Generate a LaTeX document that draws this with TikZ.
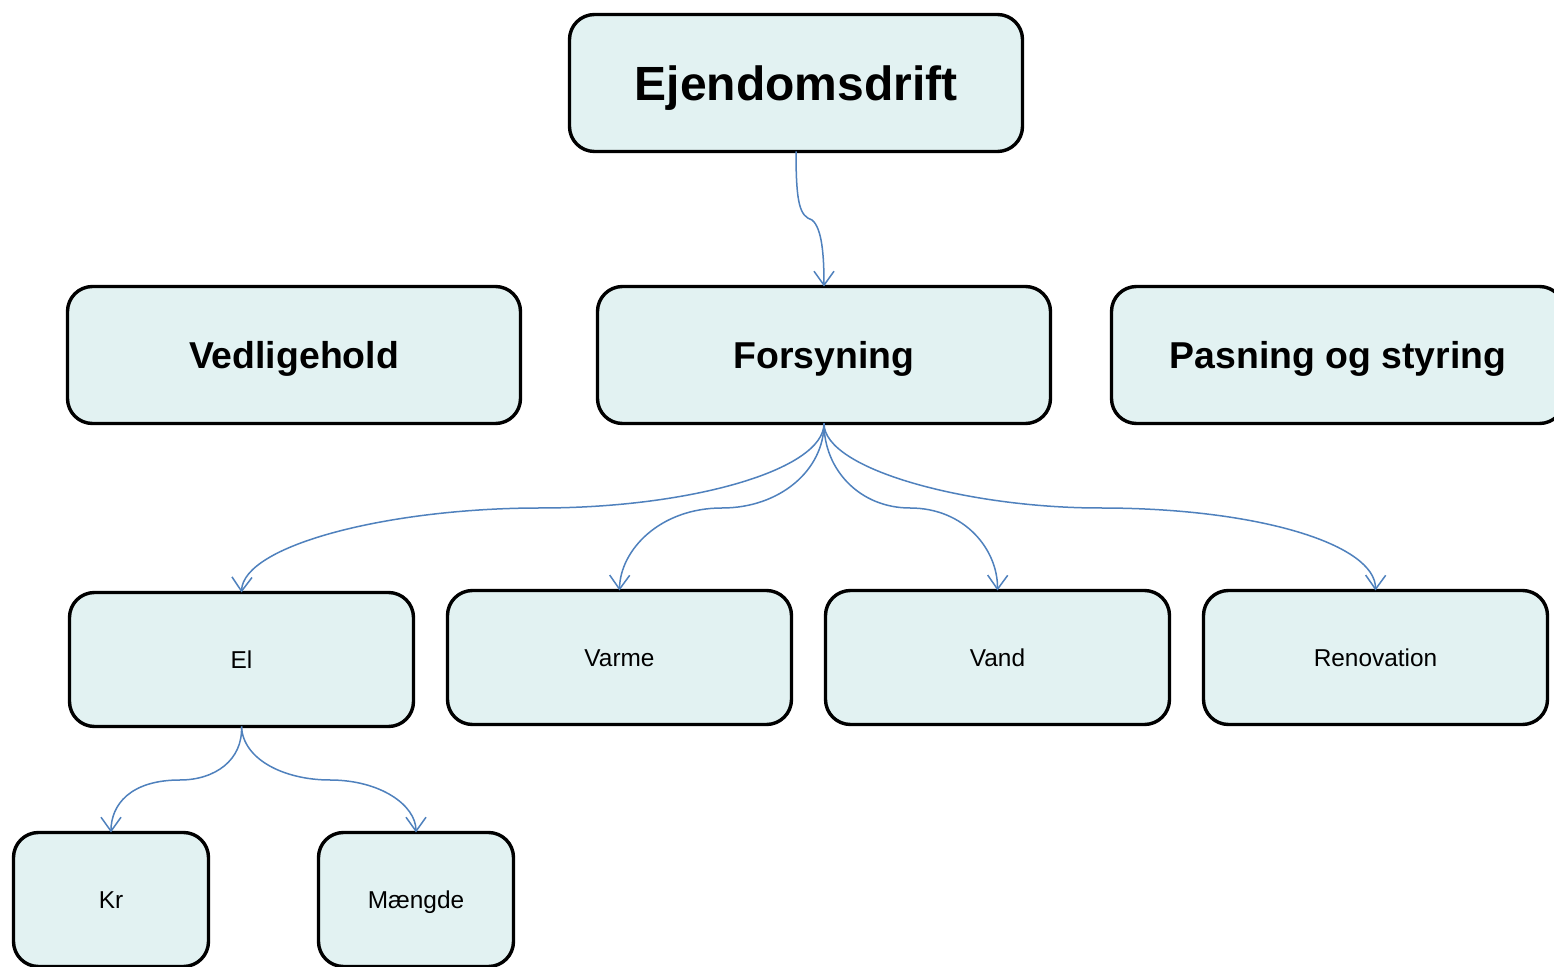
\documentclass[tikz,border=0pt]{standalone}
\usepackage{fontspec}
\setmainfont{Liberation Sans}
\usetikzlibrary{arrows.meta}
\definecolor{boxfill}{HTML}{E2F2F2}
\definecolor{linkblue}{HTML}{4F81BD}
\begin{document}
\begin{tikzpicture}[x=0.5pt,y=-0.5pt,
  box/.style={draw=black,line width=1.7pt,fill=boxfill,rounded corners=12.5pt,inner sep=0pt,outer sep=0pt,align=center,text depth=0pt},
  topbox/.style={box,minimum width=226.5pt,minimum height=68.5pt,text height=17.2pt,font=\fontsize{24}{28}\selectfont\bfseries},
  midbox/.style={box,minimum width=226.5pt,minimum height=68.5pt,text height=13.4pt,font=\fontsize{18.7}{22}\selectfont\bfseries},
  lowbox/.style={box,minimum width=172pt,minimum height=67pt,text height=8.7pt,font=\fontsize{12.2}{14}\selectfont},
  leafbox/.style={box,minimum width=97.5pt,minimum height=67pt,text height=8.7pt,font=\fontsize{12.2}{14}\selectfont},
  link/.style={draw=linkblue,line width=0.75pt,-{Straight Barb[length=7pt,width=10pt,line width=0.75pt]}}
]
\useasboundingbox (0,0) rectangle (1554,967);
\fill[white] (0,0) rectangle (1554,967);

\node[topbox] (ejd) at (796,83) {Ejendomsdrift};
\node[midbox] (ved) at (294,355) {Vedligehold};
\node[midbox] (for) at (824,355) {Forsyning};
\node[midbox] (pas) at (1338,355) {Pasning og styring};
\node[lowbox] (el) at (241.5,659.5) {El};
\node[lowbox] (var) at (619.5,657.5) {Varme};
\node[lowbox] (van) at (997.5,657.5) {Vand};
\node[lowbox] (ren) at (1375.5,657.5) {Renovation};
\node[leafbox] (kr) at (111,899.5) {Kr};
\node[leafbox] (mae) at (416,899.5) {Mængde};

\coordinate (m0) at (812,220);
\coordinate (m1) at (540,508);
\coordinate (m2) at (722,508);
\coordinate (m3) at (910,508);
\coordinate (m4) at (1100,508);
\coordinate (m5) at (180,780);
\coordinate (m6) at (330,780);

\draw[link] (ejd.south) .. controls (796,205) and (800,216) .. (m0) .. controls (822,228) and (824,255) .. (for.north);
\draw[link] (for.south) .. controls (824,470) and (690,508) .. (m1) .. controls (390,508) and (243,545) .. (el.north);
\draw[link] (for.south) .. controls (824,470) and (780,508) .. (m2) .. controls (660,508) and (620,550) .. (var.north);
\draw[link] (for.south) .. controls (824,470) and (860,508) .. (m3) .. controls (965,508) and (998,550) .. (van.north);
\draw[link] (for.south) .. controls (824,470) and (970,508) .. (m4) .. controls (1260,508) and (1376,545) .. (ren.north);
\draw[link] (el.south) .. controls (243,760) and (215,780) .. (m5) .. controls (130,780) and (111,805) .. (kr.north);
\draw[link] (el.south) .. controls (243,760) and (285,780) .. (m6) .. controls (380,780) and (416,805) .. (mae.north);
\end{tikzpicture}
\end{document}
